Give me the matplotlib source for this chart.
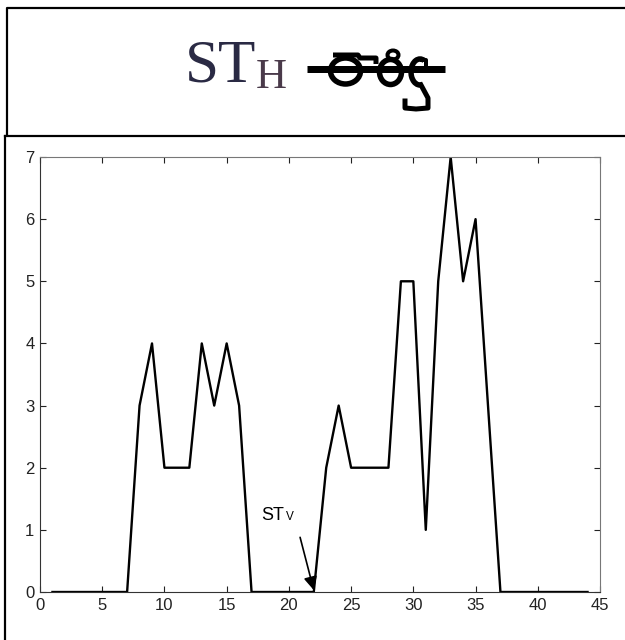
import matplotlib.pyplot as plt
from matplotlib.patches import Ellipse, Arc

# profile values (column index vs count)
positions = list(range(1, 45))
counts = [0, 0, 0, 0, 0, 0, 0, 3, 4, 2, 2, 2, 4, 3, 4, 3,
          0, 0, 0, 0, 0, 0, 2, 3, 2, 2, 2, 2, 5, 5, 1, 5,
          7, 5, 6, 3, 0, 0, 0, 0, 0, 0, 0, 0]
x_ticks = [0, 5, 10, 15, 20, 25, 30, 35, 40, 45]
y_ticks = [0, 1, 2, 3, 4, 5, 6, 7]
marker_pos = 22
marker_label = "ST"
marker_sub = "V"
title_main = "ST"
title_sub = "H"

W, H = 625, 640
PT = 0.72  # points per pixel at dpi 100


def draw_word(ov):
    # scanned word image, drawn as strokes in pixel coords
    k = "black"
    ov.plot([307, 445], [69, 69], color=k, lw=7 * PT, solid_capstyle="butt")
    ov.plot([333, 358, 360, 376, 376], [55, 55, 58, 58, 64], color=k,
            lw=5 * PT, solid_capstyle="butt")
    ov.add_patch(Ellipse((345.5, 71), 30, 26, fill=False, ec=k, lw=5.5 * PT))
    ov.add_patch(Ellipse((393, 55), 11, 9, fill=False, ec=k, lw=4 * PT))
    ov.add_patch(Ellipse((390.5, 72), 22, 25, fill=False, ec=k, lw=5.5 * PT))
    ov.add_patch(Arc((420, 72), 18, 26, theta1=80, theta2=290, ec=k,
                     lw=5.5 * PT))
    ov.plot([422, 426, 426], [60, 60, 65], color=k, lw=4 * PT)
    ov.plot([421, 428, 428, 416, 405, 405], [85, 98, 108, 109, 108, 101],
            color=k, lw=5 * PT)


fig = plt.figure(figsize=(W / 100, H / 100), dpi=100)

# overlay for frames and title image
ov = fig.add_axes([0, 0, 1, 1])
ov.set_xlim(0, W)
ov.set_ylim(H, 0)
ov.axis("off")
ov.plot([6.5, 6.5, W], [135, 7.5, 7.5], color="black", lw=2.2 * PT)
ov.plot([5, W], [135.5, 135.5], color="black", lw=2.2 * PT)
ov.plot([5, 5], [136, H], color="black", lw=2.2 * PT)
draw_word(ov)

fig.text(185 / W, 1 - 82 / H, title_main, fontsize=44,
         family="Liberation Serif", color="#2a2a44", va="baseline")
fig.text(256 / W, 1 - 88 / H, title_sub, fontsize=31,
         family="Liberation Serif", color="#4a3a4a", va="baseline")

ax = fig.add_axes([40 / W, 48 / H, 560 / W, 435 / H])
ax.plot(positions, counts, color="black", lw=1.7)
ax.set_xlim(0, 45)
ax.set_ylim(0, 7)
ax.set_xticks(x_ticks)
ax.set_yticks(y_ticks)
ax.tick_params(direction="in", length=4, width=0.8, top=True, right=True,
               labelsize=12, pad=4, colors="#222222")
for lab in ax.get_xticklabels() + ax.get_yticklabels():
    lab.set_family("Liberation Sans")
for side in ["left", "bottom"]:
    ax.spines[side].set_color("#333333")
for side in ["top", "right"]:
    ax.spines[side].set_color("#777777")

ax.annotate("", xy=(marker_pos, 0.03), xytext=(20.9, 0.88),
            arrowprops=dict(arrowstyle="-|>", color="black", lw=1.2,
                            mutation_scale=20, shrinkA=0, shrinkB=0))
ax.text(17.75, 1.16, marker_label, fontsize=13, family="Liberation Sans",
        va="baseline")
ax.text(19.75, 1.16, marker_sub, fontsize=8.5, family="Liberation Sans",
        va="baseline")

fig.savefig("out.png", dpi=100)
